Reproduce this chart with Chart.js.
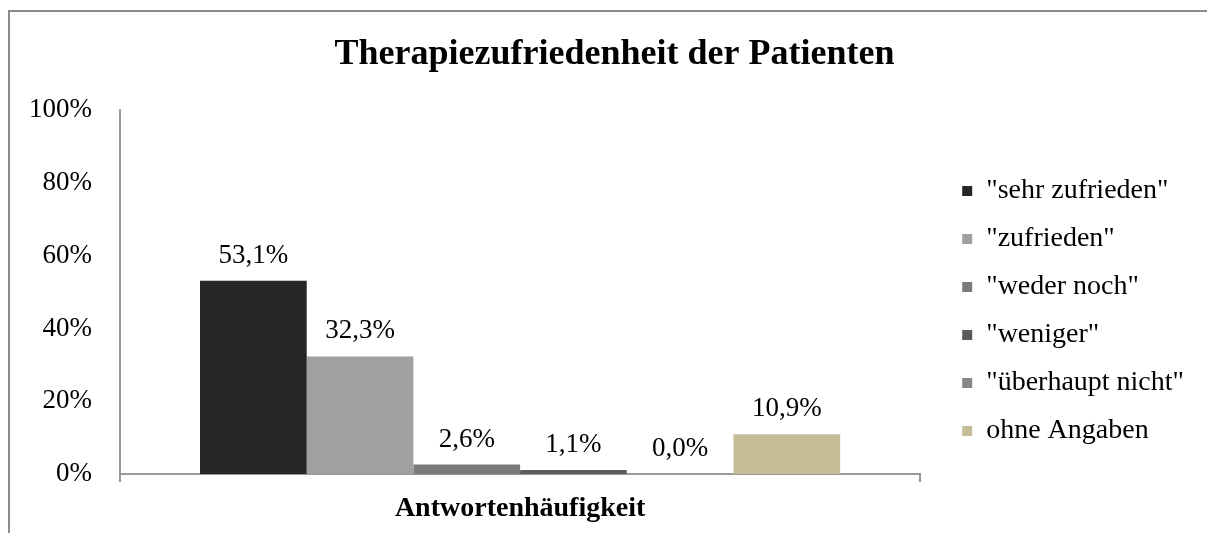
<!DOCTYPE html>
<html>
<head>
<meta charset="utf-8">
<script src="https://cdn.jsdelivr.net/npm/chart.js@4/dist/chart.umd.min.js"></script>
<style>
    html, body { margin: 0; padding: 0; background: #fff; }
    #wrap { position: relative; width: 1207px; height: 533px; }
    #frame { position: absolute; left: 8px; top: 10px; right: 0; bottom: 0;
             border-left: 2px solid #8c8c8c; border-top: 2px solid #8c8c8c; pointer-events: none; }
    canvas { position: absolute; left: 0; top: 0; }
</style>
</head>
<body>
<div id="wrap">
    <canvas id="grafico" width="1207" height="533"></canvas>
    <div id="frame"></div>
</div>
<script>
const categorias = ['Antwortenhäufigkeit'];
const respostas = ['"sehr zufrieden"', '"zufrieden"', '"weder noch"', '"weniger"', '"überhaupt nicht"', 'ohne Angaben'];
const valores = [53.1, 32.3, 2.6, 1.1, 0.0, 10.9];
const cores = ['#262626', '#a0a0a0', '#7a7a7a', '#5b5b5b', '#878787', '#c4bd97'];
const ticksY = [0, 20, 40, 60, 80, 100];

const fonte = 'Liberation Serif, Times New Roman, serif';

// rotulos de valor em cima de cada barra
const rotulos = {
    id: 'rotulos',
    afterDatasetsDraw(chart){
        const ctx = chart.ctx;
        ctx.save();
        ctx.font = '27px ' + fonte;
        ctx.fillStyle = '#000';
        ctx.textAlign = 'center';
        ctx.textBaseline = 'alphabetic';
        chart.data.datasets.forEach((ds, i) => {
            chart.getDatasetMeta(i).data.forEach((bar, j) => {
                const txt = ds.data[j].toFixed(1).replace('.', ',') + '%';
                ctx.fillText(txt, bar.x, bar.y - 18);
            });
        });
        ctx.restore();
    }
};

// empurra a legenda um pouco para a direita / baixo
const ajusteLegenda = {
    id: 'ajusteLegenda',
    beforeInit(chart){
        const lg = chart.legend;
        if (!lg) return;
        const fit = lg.fit;
        lg.fit = function(){
            fit.call(this);
            this.width += 35;
        };
    },
    afterLayout(chart){
        const lg = chart.legend;
        if (!lg) return;
        lg.left += 22;
        lg.top += 38;
    }
};

const ctx = document.querySelector('#grafico').getContext('2d');

new Chart(ctx, {
    type: 'bar',
    data: {
        labels: categorias,
        datasets: respostas.map((r, i) => ({
            label: r,
            data: [valores[i]],
            backgroundColor: cores[i],
            borderWidth: 0,
            categoryPercentage: 0.8,
            barPercentage: 1.0
        }))
    },
    options: {
        responsive: false,
        animation: false,
        layout: { padding: { left: 22, right: 0, top: 0, bottom: 0 } },
        scales: {
            x: {
                offset: true,
                grid: { display: true, drawOnChartArea: false, drawTicks: true, tickLength: 8, color: '#999', lineWidth: 2, offset: true },
                border: { display: true, color: '#999', width: 2 },
                ticks: { color: '#000', padding: 10, font: { family: fonte, size: 28, weight: 'bold' } },
                afterFit: s => { s.height = 59; }
            },
            y: {
                min: 0,
                max: 100,
                afterBuildTicks: s => { s.ticks = ticksY.map(v => ({ value: v })); },
                grid: { display: false, drawTicks: false },
                border: { display: true, color: '#999', width: 2 },
                ticks: { color: '#000', padding: 28, font: { family: fonte, size: 27 }, callback: v => v + '%' },
                afterFit: s => { s.width = 98; }
            }
        },
        plugins: {
            title: {
                display: true,
                text: 'Therapiezufriedenheit der Patienten',
                color: '#000',
                font: { family: fonte, size: 36, weight: 'bold' },
                padding: { top: 33, bottom: 34 }
            },
            legend: {
                display: true,
                position: 'right',
                align: 'center',
                fullSize: false,
                labels: { color: '#000', boxWidth: 10, boxHeight: 10, padding: 20, font: { family: fonte, size: 28 } }
            },
            tooltip: { enabled: false }
        }
    },
    plugins: [rotulos, ajusteLegenda]
});
</script>
</body>
</html>
